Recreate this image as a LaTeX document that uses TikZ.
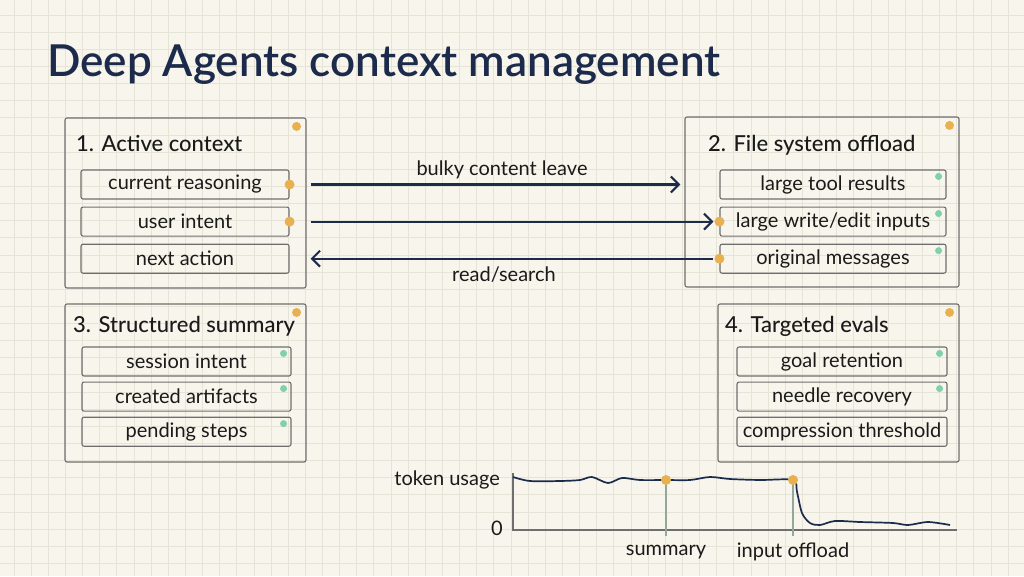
\documentclass[tikz,border=0pt]{standalone}
\usepackage{fontspec}
\setmainfont{Lato}
\IfFontExistsTF{Lato Semibold}{\newfontfamily\semifont{Lato Semibold}}{\newcommand\semifont{\bfseries}}
\IfFontExistsTF{Lato Medium}{\newfontfamily\medfont{Lato Medium}}{\newcommand\medfont{\semifont}}
\usetikzlibrary{positioning,arrows.meta}

\definecolor{paper}{HTML}{F8F6EC}
\definecolor{gridc}{HTML}{E6E3D7}
\definecolor{navy}{HTML}{1C2B4B}
\definecolor{edge}{HTML}{6E6E6E}
\definecolor{inkc}{HTML}{1A1A1A}
\definecolor{amber}{HTML}{E8B04E}
\definecolor{mint}{HTML}{80D0A8}
\definecolor{sage}{HTML}{93A89A}

\tikzset{
  panel/.style n args={2}{draw=edge, line width=1.1pt, rounded corners=2pt,
    minimum width=#1, minimum height=#2, inner sep=0pt},
  item/.style={draw=edge, line width=1.1pt, rounded corners=2pt, minimum width=#1,
    minimum height=29pt, inner sep=0pt, text=inkc, font=\fontsize{20}{24}\selectfont},
  ttl/.style={anchor=base west, inner sep=0pt, text=inkc, font=\medfont\fontsize{22}{26}\selectfont},
  lbl/.style={inner sep=0pt, text=inkc, font=\fontsize{20}{24}\selectfont},
  odot/.style={fill=amber},
  gdot/.style={fill=mint},
  flow/.style={draw=navy, line width=2.1pt, -{Straight Barb[length=8pt,width=16pt]}},
  axis/.style={draw=edge, line width=1.1pt},
  curve/.style={draw=navy, line width=1.7pt},
  markline/.style={draw=sage, line width=1.2pt},
  gridline/.style={draw=gridc, line width=0.9pt}
}

\begin{document}
\begin{tikzpicture}[x=1pt, y=-1pt]
  \useasboundingbox (0,0) rectangle (1024,576);
  \fill[paper] (0,0) rectangle (1024,576);
  \foreach \i in {0,...,59} \draw[gridline] ({14+17.14*\i},0) -- ++(0,576);
  \foreach \j in {0,...,33} \draw[gridline] (0,{15+17.14*\j}) -- ++(1024,0);

  \node[anchor=base west, inner sep=0pt, text=navy, font=\semifont\fontsize{44}{52}\selectfont]
    (title) at (47,76) {Deep Agents context management};

  %Define panels
  \node[panel={241pt}{170pt}] (p1) at (185.5,203) {};
  \node[panel={274pt}{170pt}] (p2) at (822,202) {};
  \node[panel={241pt}{158pt}] (p3) at (185.5,383) {};
  \node[panel={241pt}{158pt}] (p4) at (838.5,383) {};

  \node[ttl] (t1) at (76,151) {1. Active context};
  \node[ttl] (t2) at (708,151) {2. File system offload};
  \node[ttl] (t3) at (73,332) {3. Structured summary};
  \node[ttl] (t4) at (725,332) {4. Targeted evals};

  % Items
  \node[item=208pt] (cr) at (185,184.5) {current reasoning};
  \node[item=208pt, below=7pt of cr] (ui) {user intent};
  \node[item=208pt, below=7pt of ui] (na) {next action};

  \node[item=226pt] (lt) at (833,184.5) {large tool results};
  \node[item=226pt, below=7pt of lt] (lw) {large write/edit inputs};
  \node[item=226pt, below=7pt of lw] (om) {original messages};

  \node[item=209pt] (si) at (186.5,361.5) {session intent};
  \node[item=209pt, below=5pt of si] (ca) {created artifacts};
  \node[item=209pt, below=5pt of ca] (ps) {pending steps};

  \node[item=210pt] (gr) at (842,361.5) {goal retention};
  \node[item=210pt, below=5pt of gr] (nr) {needle recovery};
  \node[item=210pt, below=5pt of nr] (ct) {compression threshold};

  % Connect the items
  \draw[flow, shorten <=21pt, shorten >=4pt] (cr.east) -- (cr.east -| p2.west);
  \draw[flow, shorten <=21pt, shorten >=6pt] (ui.east) -- (lw.west);
  \draw[flow, shorten <=6pt, shorten >=21pt] (om.west) -- (na.east);
  \node[lbl] (bulk) at (502,170) {bulky content leave};
  \node[lbl] (read) at (504,275) {read/search};

  % Dots
  \foreach \p in {p1,p2,p3,p4} \fill[odot] (\p.north east) ++(-10,9) circle (4.5pt);
  \foreach \n in {cr,ui} \fill[odot] (\n.east) circle (5pt);
  \foreach \n in {lw,om} \fill[odot] (\n.west) circle (5pt);
  \foreach \n in {lt,lw,om,si,ca,ps,gr,nr} \fill[gdot] (\n.north east) ++(-8,7) circle (3.5pt);

  % Token usage chart
  \coordinate (ytop) at (513,473);
  \coordinate (org) at (513,530);
  \coordinate (xend) at (957,530);
  \coordinate (sm) at (666,480);
  \coordinate (io) at (793,480);
  \draw[axis] (ytop) -- (org) -- (xend);
  \draw[curve] plot[smooth] coordinates {(513,477) (530,481) (560,481) (580,480)
    (592,477) (608,483) (622,478) (640,480) (666,480) (690,480) (710,477) (730,479)
    (760,480) (793,480) (797,492) (802,513) (810,523) (820,525) (835,521) (860,522)
    (893,523) (908,525) (928,522) (950,525)};
  \draw[markline] (sm) -- ++(0,56);
  \draw[markline] (io) -- ++(0,56);
  \fill[odot] (sm) circle (5pt);
  \fill[odot] (io) circle (5pt);
  \node[lbl, anchor=east] (tok) at (500,480) {token usage};
  \node[lbl] (zero) at (497,528) {0};
  \node[lbl] (sml) at (666,552) {summary};
  \node[lbl] (iol) at (793,552) {input offload};
\end{tikzpicture}
\end{document}
